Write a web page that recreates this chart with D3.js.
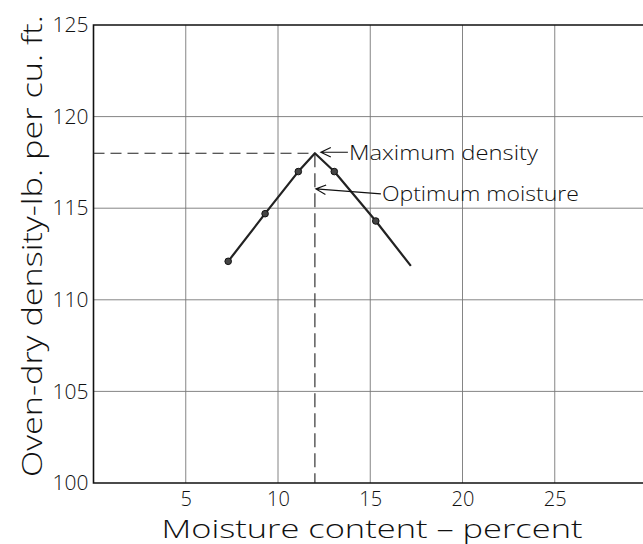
<!DOCTYPE html>
<html>
<head>
<meta charset="utf-8">
<script src="https://cdn.jsdelivr.net/npm/d3@7"></script>
<style>
  body { margin: 0; background: #fff; }
  svg { display: block; }
  text { font-family: "Open Sans", "DejaVu Sans", sans-serif; font-weight: 300; fill: #111; }
  .grid line { stroke: #777; stroke-width: 0.9; }
</style>
</head>
<body>
<svg width="643" height="544"></svg>
<script>
// tested points (moisture %, oven-dry density lb/cu ft)
var moisture = [7.3, 9.3, 11.1, 13.05, 15.3];
var density = [112.1, 114.7, 117.0, 117.0, 114.3];

// drawn curve: through the points, up to the peak and down past the last point
var curveX = [7.3, 9.3, 11.1, 12.0, 13.05, 15.3, 17.2];
var curveY = [112.1, 114.7, 117.0, 118.0, 117.0, 114.3, 111.85];

// optimum
var optMoisture = 12.0;
var maxDensity = 118.0;

var xTicks = [5, 10, 15, 20, 25];
var yTicks = [100, 105, 110, 115, 120, 125];

var svg = d3.select("svg");

var x = d3.scaleLinear().domain([0, 30]).range([93.5, 647]);
var y = d3.scaleLinear().domain([100, 125]).range([483, 25]);

// grid
var grid = svg.append("g").attr("class", "grid");
grid.selectAll("line.v")
  .data(xTicks)
  .enter().append("line")
  .attr("x1", function(d) { return x(d); })
  .attr("x2", function(d) { return x(d); })
  .attr("y1", y(125))
  .attr("y2", y(100));

grid.selectAll("line.h")
  .data(yTicks.filter(function(d) { return d > 100 && d < 125; }))
  .enter().append("line")
  .attr("x1", x(0))
  .attr("x2", x(30))
  .attr("y1", function(d) { return y(d); })
  .attr("y2", function(d) { return y(d); });

// frame: top, left, bottom
svg.append("path")
  .attr("d", "M" + x(30) + "," + y(125) + "H" + x(0) + "V" + y(100) + "H" + x(30))
  .attr("fill", "none")
  .attr("stroke", "#111")
  .attr("stroke-width", 1.6);

// axes labels
var xAxis = d3.axisBottom(x).tickValues(xTicks).tickSize(0).tickPadding(9);
var gx = svg.append("g").attr("transform", "translate(0," + y(100) + ")").call(xAxis);
gx.select(".domain").remove();
gx.selectAll("text").style("font-size", "20px").style("font-family", null).attr("fill", "#111");

var yAxis = d3.axisLeft(y).tickValues(yTicks).tickSize(0).tickPadding(5);
var gy = svg.append("g").attr("transform", "translate(" + x(0) + ",0)").call(yAxis);
gy.select(".domain").remove();
gy.selectAll("text").style("font-size", "21px").style("font-family", null).attr("fill", "#111");

// axis titles
svg.append("text")
  .attr("x", 372)
  .attr("y", 538)
  .attr("text-anchor", "middle")
  .attr("textLength", 421)
  .attr("lengthAdjust", "spacingAndGlyphs")
  .style("font-size", "25px")
  .text("Moisture  content – percent");

svg.append("text")
  .attr("transform", "translate(42,246) rotate(-90)")
  .attr("text-anchor", "middle")
  .attr("textLength", 462)
  .attr("lengthAdjust", "spacingAndGlyphs")
  .style("font-size", "28px")
  .text("Oven-dry density-lb. per cu. ft.");

// dashed guides
svg.append("line")
  .attr("x1", x(0)).attr("x2", x(optMoisture))
  .attr("y1", y(maxDensity)).attr("y2", y(maxDensity))
  .attr("stroke", "#222").attr("stroke-width", 1.1)
  .attr("stroke-dasharray", "11,6");

svg.append("line")
  .attr("x1", x(optMoisture)).attr("x2", x(optMoisture))
  .attr("y1", y(maxDensity)).attr("y2", y(100))
  .attr("stroke", "#222").attr("stroke-width", 1.1)
  .attr("stroke-dasharray", "14,6");

// curve
var line = d3.line()
  .x(function(d) { return x(d[0]); })
  .y(function(d) { return y(d[1]); });

svg.append("path")
  .datum(d3.zip(curveX, curveY))
  .attr("d", line)
  .attr("fill", "none")
  .attr("stroke", "#222")
  .attr("stroke-width", 2.2)
  .attr("stroke-linejoin", "round");

svg.selectAll("circle.pt")
  .data(d3.zip(moisture, density))
  .enter().append("circle")
  .attr("class", "pt")
  .attr("cx", function(d) { return x(d[0]); })
  .attr("cy", function(d) { return y(d[1]); })
  .attr("r", 3.3)
  .attr("fill", "#444")
  .attr("stroke", "#111")
  .attr("stroke-width", 1);

// annotations with open arrowheads
function arrow(x1, y1, x2, y2) {
  var a = Math.atan2(y2 - y1, x2 - x1);
  var len = 11, spread = 0.45;
  var p = "M" + x1 + "," + y1 + "L" + x2 + "," + y2 +
    "M" + (x2 - len * Math.cos(a - spread)) + "," + (y2 - len * Math.sin(a - spread)) +
    "L" + x2 + "," + y2 +
    "L" + (x2 - len * Math.cos(a + spread)) + "," + (y2 - len * Math.sin(a + spread));
  svg.append("path").attr("d", p)
    .attr("fill", "none").attr("stroke", "#111").attr("stroke-width", 1.2);
}

var px = x(optMoisture), py = y(maxDensity);
arrow(px + 33, py - 1, px + 6, py - 1);
svg.append("text")
  .attr("x", px + 34)
  .attr("y", py + 7)
  .attr("textLength", 189)
  .attr("lengthAdjust", "spacingAndGlyphs")
  .style("font-size", "20px")
  .text("Maximum density");

var ox = x(optMoisture), oy = y(116.05);
arrow(ox + 66, oy + 5, ox + 1, oy);
svg.append("text")
  .attr("x", ox + 67)
  .attr("y", oy + 12)
  .attr("textLength", 197)
  .attr("lengthAdjust", "spacingAndGlyphs")
  .style("font-size", "20px")
  .text("Optimum moisture");
</script>
</body>
</html>
